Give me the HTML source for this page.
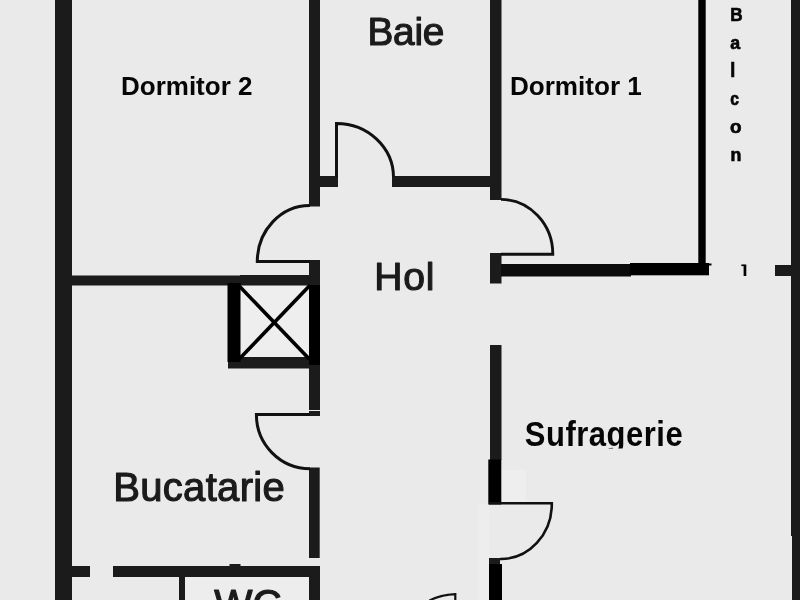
<!DOCTYPE html>
<html>
<head>
<meta charset="utf-8">
<title>Plan apartament</title>
<style>
html,body{margin:0;padding:0;background:#eaeaea;}
body{width:800px;height:600px;overflow:hidden;position:relative;font-family:"Liberation Sans",sans-serif;}
svg{position:absolute;left:0;top:0;display:block;will-change:transform;}
.lbl{position:absolute;white-space:nowrap;line-height:1;margin:0;padding:0;transform-origin:0 0;}
.med{color:#1b1b1b;font-weight:400;-webkit-text-stroke:0.7px #1b1b1b;}
.bld{color:#050505;font-weight:700;}
</style>
</head>
<body>
<svg width="800" height="600" viewBox="0 0 800 600" shape-rendering="geometricPrecision">
  <rect x="0" y="0" width="800" height="600" fill="#eaeaea"/>
  <!-- subtle lighter patches -->
  <rect x="241" y="286" width="68" height="71" fill="#eeeeee"/>
  <rect x="501" y="470" width="25" height="32" fill="#eeeeee"/>
  <rect x="478" y="504" width="11" height="96" fill="#ededed"/>
  <rect x="185" y="577" width="124" height="23" fill="#ededed"/>

  <g fill="#1b1b1b">
    <!-- outer left wall -->
    <rect x="55" y="0" width="17" height="600"/>
    <!-- right outer wall -->
    <rect x="791" y="0" width="9" height="536"/>
    <rect x="792" y="536" width="8" height="64"/>
    <rect x="775" y="265" width="17" height="11"/>
    <!-- Dormitor 2 right wall (upper) -->
    <rect x="309" y="0" width="11" height="206.5"/>
    <!-- stub to Baie door -->
    <rect x="320" y="176" width="18" height="11"/>
    <!-- Baie bottom wall -->
    <rect x="392" y="176" width="109" height="11"/>
    <!-- Baie right wall -->
    <rect x="490" y="0" width="11.5" height="200"/>
    <!-- Dormitor 2 bottom wall -->
    <rect x="72" y="275.5" width="168" height="10"/>
    <rect x="240" y="275" width="80" height="10.5"/>
    <!-- Hol left wall below Dormitor 2 door -->
    <rect x="309" y="260" width="11" height="26"/>
    <rect x="309" y="365" width="11" height="45"/>
    <rect x="309" y="411" width="11" height="5"/>
    <rect x="309" y="467.5" width="10.7" height="90.5"/>
    <!-- shaft bottom bar -->
    <rect x="228" y="357" width="92" height="11.5"/>
    <!-- bottom wall Bucatarie -->
    <rect x="72" y="566" width="18" height="11"/>
    <rect x="113" y="566" width="207" height="11"/>
    <rect x="229.5" y="564" width="11" height="3"/>
    <rect x="309" y="577" width="11" height="23"/>
    <rect x="179" y="577" width="6" height="23"/>
    <!-- Hol right: Dormitor 1 stub -->
    <rect x="490" y="253" width="11.5" height="30.5"/>
    <!-- Dormitor 1 bottom wall -->
    <rect x="501" y="264" width="130" height="12.5" fill="#0c0c0c"/>
    <!-- Sufragerie left wall -->
    <rect x="490" y="345" width="11.5" height="115"/>
    <rect x="489" y="558" width="11" height="7"/>
  </g>
  <g fill="#000">
    <!-- Balcon wall -->
    <rect x="698.3" y="0" width="7.4" height="266"/>
    <rect x="630" y="263" width="79" height="12.3"/>
    <rect x="705" y="263.5" width="6.5" height="2"/>
    <!-- shaft bars -->
    <rect x="227.5" y="283" width="13" height="79"/>
    <rect x="309" y="285" width="11" height="80"/>
    <!-- Sufragerie wall lower pieces -->
    <rect x="488.3" y="459.5" width="13" height="45"/>
    <rect x="489" y="564" width="13" height="36"/>
    <!-- small 1 -->
    <rect x="743.6" y="264.5" width="2.7" height="11.5"/>
    <rect x="741.3" y="264.5" width="3" height="1.6"/>
  </g>
  <!-- shaft X -->
  <g stroke="#000" stroke-width="3.6" fill="none">
    <line x1="239" y1="285.8" x2="309.5" y2="359.3"/>
    <line x1="239" y1="359.3" x2="309.5" y2="285.8"/>
  </g>
  <!-- Doors -->
  <g stroke="#111" fill="none" stroke-linecap="butt">
    <!-- Baie door -->
    <path d="M336.5 177 V123.5 A57 54 0 0 1 393.5 177" stroke-width="3"/>
    <!-- Dormitor 2 door -->
    <path d="M310 261.6 H257.3 A52.5 56 0 0 1 310 205.5" stroke-width="3"/>
    <!-- Dormitor 1 door -->
    <path d="M501 254.2 H552.8 A52 54.8 0 0 0 501 199.4" stroke-width="2.9"/>
    <!-- Bucatarie door -->
    <path d="M310 414.5 H256.4 A53.6 54.2 0 0 0 310 468.7" stroke-width="3"/>
    <!-- Sufragerie door -->
    <path d="M489 503.2 H551.8 A51 55 0 0 1 500 559" stroke-width="2.6"/>
    <!-- bottom hall door -->
    <path d="M455.3 600 V594.2 Q440 595 429.5 600.5" stroke-width="2.2"/>
  </g>

  <!-- Labels -->
  <g font-family="'Liberation Sans', sans-serif" fill="#1b1b1b" stroke="#1b1b1b" stroke-width="1.15" font-weight="400" stroke-linejoin="round">
    <text id="baie" x="367.4" y="45" font-size="38.8" letter-spacing="-0.2">Baie</text>
    <text id="hol" x="374.3" y="289.75" font-size="39.1" letter-spacing="0.7">Hol</text>
    <text id="buc" x="113.3" y="501.3" font-size="40" letter-spacing="0.3">Bucatarie</text>
    <text id="wc" x="214.2" y="618.3" font-size="40.5">WC</text>
  </g>
  <g font-family="'Liberation Sans', sans-serif" fill="#060606" font-weight="700">
    <text id="d2" transform="translate(121,94.5) scale(1.04,1)" font-size="25">Dormitor 2</text>
    <text id="d1" transform="translate(509.9,94.6) scale(1.044,1)" font-size="25">Dormitor 1</text>
    <clipPath id="sufclip"><rect x="500" y="400" width="200" height="48.6"/></clipPath>
    <g clip-path="url(#sufclip)"><text id="suf" transform="translate(524.8,445.6) scale(0.9,1)" font-size="34.4" letter-spacing="0.58">Sufragerie</text></g>
    <g font-size="18.9" stroke="#060606" stroke-width="0.7">
      <text transform="translate(730.2,21) scale(0.906,1)">B</text>
      <text transform="translate(730.2,49.2) scale(0.94,1)">a</text>
      <text transform="translate(730.2,76.6) scale(0.95,1.07)">l</text>
      <text transform="translate(730.2,104.75) scale(0.83,1)">c</text>
      <text transform="translate(730.0,133.25) scale(1.0,1)">o</text>
      <text transform="translate(730.4,161) scale(0.94,1)">n</text>
    </g>
  </g>
</svg>

</body>
</html>
